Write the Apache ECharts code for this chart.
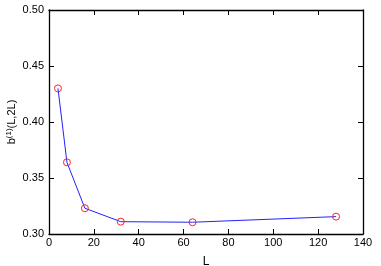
<!DOCTYPE html>
<html><head><meta charset="utf-8">
<script src="https://cdn.jsdelivr.net/npm/echarts@6/dist/echarts.min.js"></script>
<style>html,body{margin:0;padding:0;background:#fff}#c{width:381px;height:266px}</style>
</head><body><div id="c"></div>
<script>
const xValues = [4, 8, 16, 32, 64, 128];
const yValues = [0.430, 0.364, 0.323, 0.311, 0.3105, 0.3155];
const xTicks = {min: 0, max: 140, interval: 20};
const yTicks = {min: 0.30, max: 0.50, interval: 0.05};

const chart = echarts.init(document.getElementById('c'), null, {renderer: 'canvas'});
const font = 'Liberation Sans, Arial, Helvetica, sans-serif';
const axisCommon = {
  axisLine: {show: true, onZero: false, lineStyle: {color: '#000', width: 1.3}},
  axisTick: {show: true, inside: true, length: 5, lineStyle: {color: '#000', width: 1}},
  splitLine: {show: false}
};
chart.setOption({
  animation: false,
  backgroundColor: '#fff',
  grid: {left: 49, right: 18, top: 10, bottom: 32, containLabel: false, outerBoundsMode: 'none'},
  xAxis: [
    Object.assign({type: 'value', position: 'bottom', min: xTicks.min, max: xTicks.max, interval: xTicks.interval,
      name: 'L', nameLocation: 'middle', nameGap: 22, nameMoveOverlap: false,
      nameTextStyle: {fontFamily: font, fontSize: 12, color: '#000'},
      axisLabel: {margin: 3, fontFamily: font, fontSize: 11, color: '#000'}}, axisCommon),
    Object.assign({type: 'value', position: 'top', min: xTicks.min, max: xTicks.max, interval: xTicks.interval,
      axisLabel: {show: false}}, axisCommon)
  ],
  yAxis: [
    Object.assign({type: 'value', position: 'left', min: yTicks.min, max: yTicks.max, interval: yTicks.interval,
      name: '{a|b}{s|(1)}{a|(L,2L)}', nameLocation: 'middle', nameGap: 31, nameRotate: 90, nameMoveOverlap: false,
      nameTextStyle: {rich: {
        a: {fontFamily: font, fontSize: 11, color: '#000'},
        s: {fontFamily: font, fontSize: 8, color: '#000', verticalAlign: 'top', padding: [0, 0, 5, 0]}
      }},
      axisLabel: {margin: 5, fontFamily: font, fontSize: 11, color: '#000',
        formatter: v => v.toFixed(2)}}, axisCommon),
    Object.assign({type: 'value', position: 'right', min: yTicks.min, max: yTicks.max, interval: yTicks.interval,
      axisLabel: {show: false}}, axisCommon)
  ],
  series: [{
    type: 'line',
    data: xValues.map((x, i) => [x, yValues[i]]),
    symbol: 'circle',
    symbolSize: 7,
    showAllSymbol: true,
    lineStyle: {color: '#2222ff', width: 1},
    itemStyle: {color: 'rgba(0,0,0,0)', borderColor: '#ff2222', borderWidth: 1},
    emphasis: {disabled: true}
  }]
});
</script></body></html>
